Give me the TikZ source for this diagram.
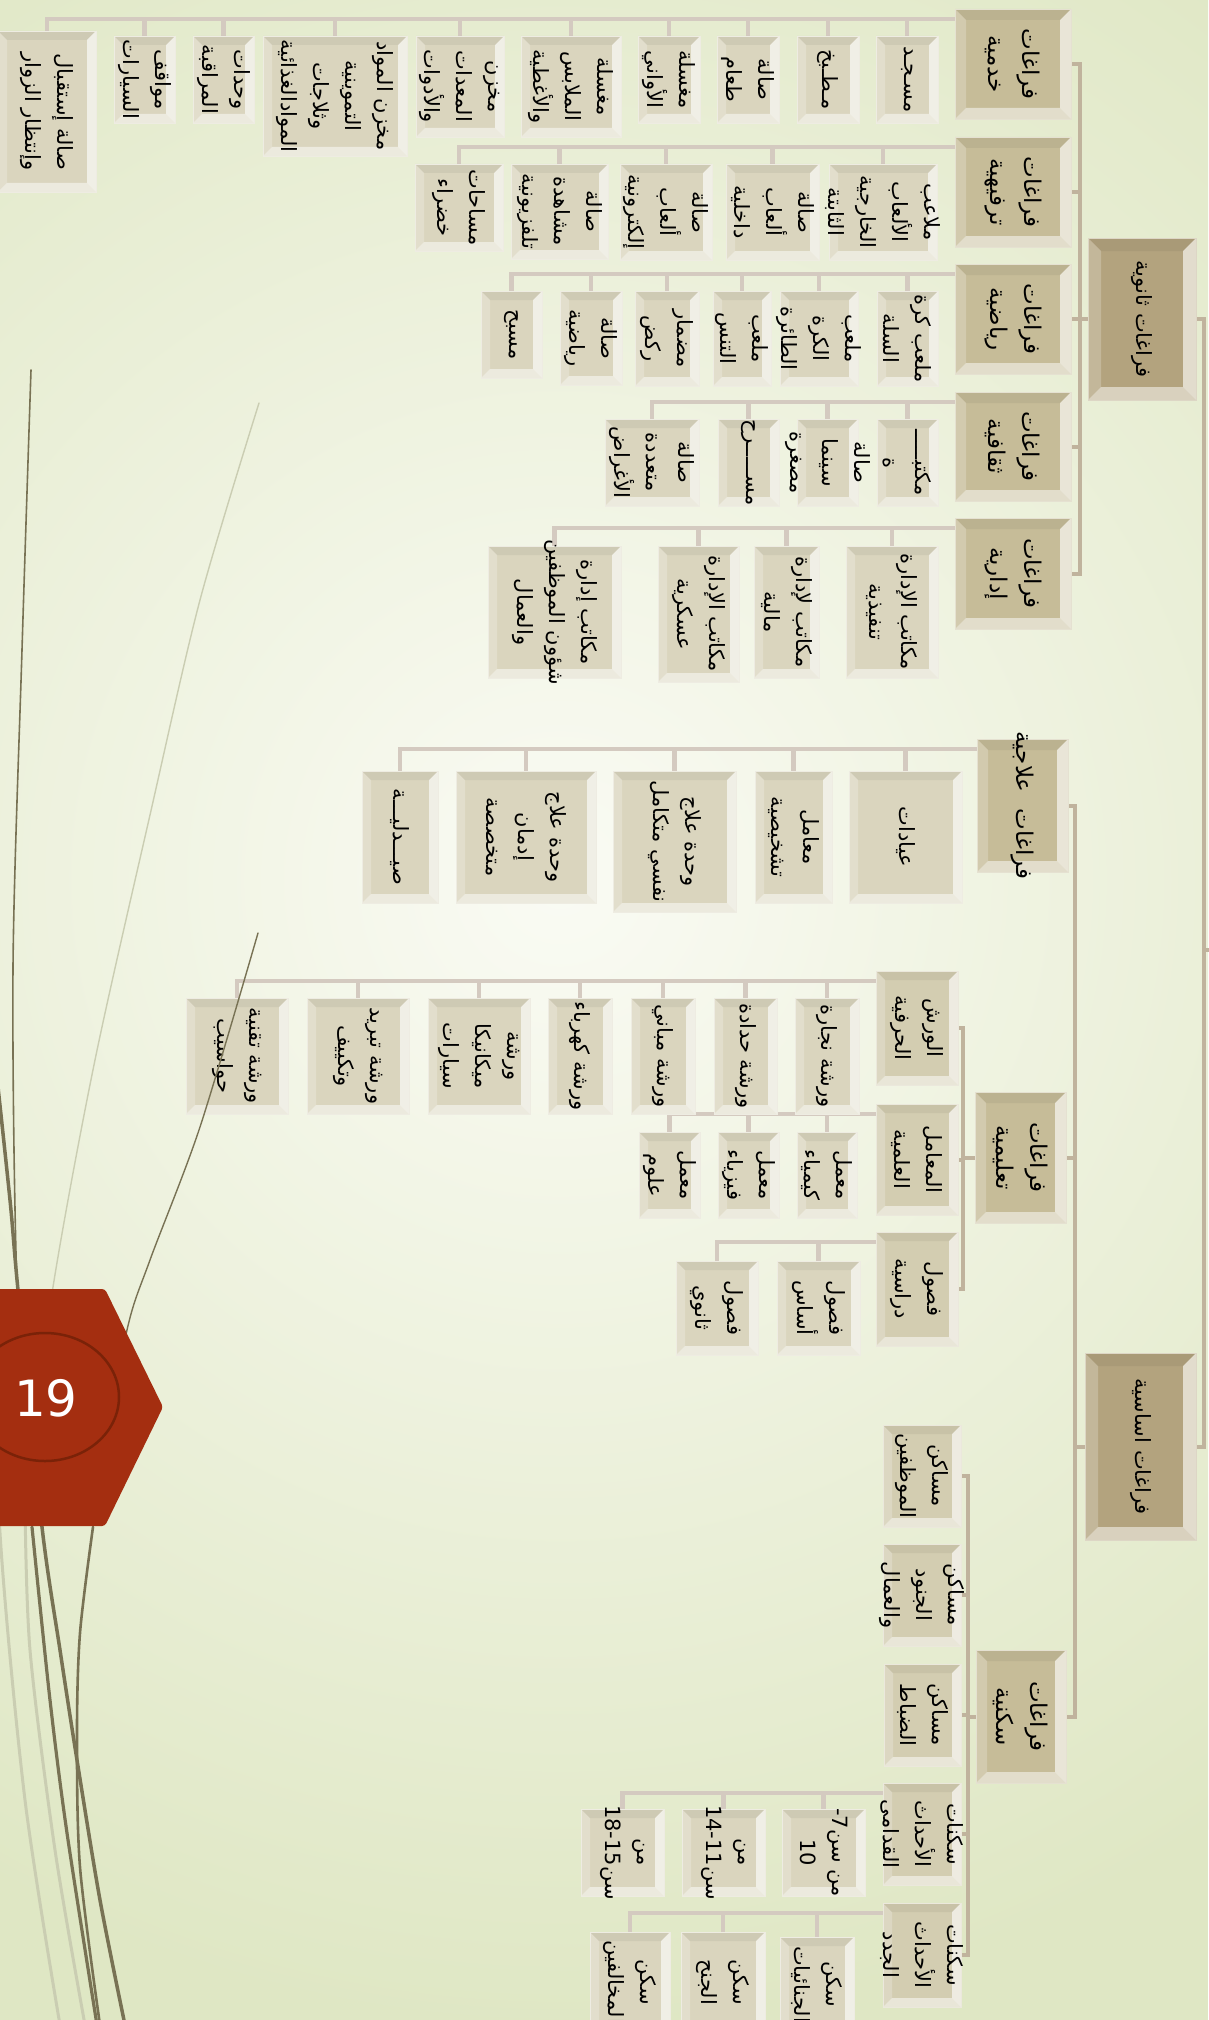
\documentclass[tikz,border=0pt]{standalone}
\usepackage{fontspec}
\newfontfamily\arabicfont[Script=Arabic]{DejaVu Sans}
\newfontfamily\numfont{DejaVu Sans}
\TeXXeTstate=1
\newcommand\arl[1]{\beginR#1\endR}
\definecolor{bgout}{HTML}{DFE7C4}
\definecolor{bgin}{HTML}{FAFBF4}
\definecolor{lone}{HTML}{B3A37E}
\definecolor{ltwo}{HTML}{C6BC98}
\definecolor{lthree}{HTML}{D3CDB1}
\definecolor{leaf}{HTML}{DAD5BE}
\definecolor{rowcol}{HTML}{D4CAC0}
\definecolor{colcol}{HTML}{C0B39D}
\definecolor{blade}{HTML}{787254}
\definecolor{bladepale}{HTML}{CACDB2}
\definecolor{hexred}{HTML}{A42E10}
\definecolor{hexdark}{HTML}{7A2208}
\pgfdeclarelayer{bg}
\pgfdeclarelayer{conn}
\pgfdeclarelayer{fg}
\pgfsetlayers{bg,conn,main,fg}
\tikzset{
 bevelbox/.style 2 args={rectangle, inner sep=0pt, outer sep=0pt, fill=#1, draw={#1!45!white}, line width=0.8pt,
  path picture={
   \fill[white,opacity=.62] (path picture bounding box.north east) -- (path picture bounding box.south east) -- ([xshift=-#2,yshift=#2]path picture bounding box.south east) -- ([xshift=-#2,yshift=-#2]path picture bounding box.north east) -- cycle;
   \fill[white,opacity=.5] (path picture bounding box.south west) -- (path picture bounding box.south east) -- ([xshift=-#2,yshift=#2]path picture bounding box.south east) -- ([xshift=#2,yshift=#2]path picture bounding box.south west) -- cycle;
   \fill[white,opacity=.22] (path picture bounding box.north west) -- (path picture bounding box.south west) -- ([xshift=#2,yshift=#2]path picture bounding box.south west) -- ([xshift=#2,yshift=-#2]path picture bounding box.north west) -- cycle;
   \fill[black,opacity=.05] (path picture bounding box.north west) -- (path picture bounding box.north east) -- ([xshift=-#2,yshift=-#2]path picture bounding box.north east) -- ([xshift=#2,yshift=-#2]path picture bounding box.north west) -- cycle;
  }},
 lonebox/.style={bevelbox={lone}{13pt}},
 ltwobox/.style={bevelbox={ltwo}{11pt}},
 lthreebox/.style={bevelbox={lthree}{9pt}},
 leafbox/.style={bevelbox={leaf}{9pt}},
 lonebox text/.style={font=\arabicfont\fontsize{21}{32}\selectfont},
 ltwobox text/.style={font=\arabicfont\fontsize{23}{34}\selectfont},
 lthreebox text/.style={font=\arabicfont\fontsize{21}{32}\selectfont},
 leafbox text/.style={font=\arabicfont\fontsize{21}{32}\selectfont},
 rowconn/.style={draw=rowcol, line width=4.5pt},
 colconn/.style={draw=colcol, line width=4pt},
 bladeline/.style={draw=blade, line cap=round},
 paleline/.style={draw=bladepale, line cap=round},
}
\newcommand\bx[7]{\node[#6, minimum width={(#4)-(#2)}, minimum height={(#5)-(#3)}, label={[rotate=-90,align=center,inner sep=0pt,#6 text]center:{#7}}] (#1) at ({((#2)+(#4))/2},{((#3)+(#5))/2}) {};}
\newcommand\rowc[2]{\draw[rowconn] ([xshift=6pt,yshift=-10pt]#1.north west) -| (#2.north);}
\newcommand\colc[3]{\draw[colconn] (#1.west) -- ++(-#3pt,0pt) |- (#2.east);}
\begin{document}
\begin{tikzpicture}[x=1pt,y=-1pt]
\useasboundingbox (0,0) rectangle (1208,2020);
\begin{pgfonlayer}{bg}
\fill[bgout] (0,0) rectangle (1208,2020);
\begin{scope}
\clip (0,0) rectangle (1208,2020);
\shade[inner color=bgin, outer color=bgout] (560,880) circle (1150pt);
\end{scope}
\end{pgfonlayer}

% level 1
\bx{T}{1088}{238}{1196}{400}{lonebox}{\arl{فراغات ثانوية}}
\bx{A}{1085}{1353}{1196}{1540}{lonebox}{\arl{فراغات اساسية}}
% level 2
\bx{S1}{955}{9}{1071}{119}{ltwobox}{\arl{فراغات}\\\arl{خدمية}}
\bx{S2}{955}{137}{1071}{247}{ltwobox}{\arl{فراغات}\\\arl{ترفيهية}}
\bx{S3}{955}{264}{1071}{374}{ltwobox}{\arl{فراغات}\\\arl{رياضية}}
\bx{S4}{955}{392}{1071}{501}{ltwobox}{\arl{فراغات}\\\arl{ثقافية}}
\bx{S5}{955}{518}{1071}{629}{ltwobox}{\arl{فراغات}\\\arl{إدارية}}
\bx{B1}{977}{739}{1068}{872}{ltwobox}{\arl{فراغات\hspace{0.7em}علاجية}}
\bx{B2}{975}{1092}{1066}{1223}{ltwobox}{\arl{فراغات}\\\arl{تعليمية}}
\bx{B3}{976}{1650}{1066}{1783}{ltwobox}{\arl{فراغات}\\\arl{سكنية}}
% khidmiya
\bx{s1a}{876}{36}{938}{123}{leafbox}{\arl{مسـجـد}}
\bx{s1b}{797}{36}{859}{123}{leafbox}{\arl{مـطـبخ}}
\bx{s1c}{717}{36}{779}{123}{leafbox}{\arl{صالة}\\\arl{طعام}}
\bx{s1d}{638}{36}{700}{123}{leafbox}{\arl{مغسلة}\\\arl{الأواني}}
\bx{s1e}{521}{36}{621}{137}{leafbox}{\arl{مغسلة}\\\arl{الملابس}\\\arl{والأغطية}}
\bx{s1f}{416}{36}{504}{137}{leafbox}{\arl{مخزن}\\\arl{المعدات}\\\arl{والأدوات}}
\bx{s1g}{263}{36}{407}{156}{leafbox}{\arl{مخزن المواد}\\\arl{التموينية}\\\arl{وثلاجات}\\\arl{الموادالغذائية}}
\bx{s1h}{193}{36}{254}{123}{leafbox}{\arl{وحدات}\\\arl{المراقبة}}
\bx{s1i}{114}{36}{175}{123}{leafbox}{\arl{مواقف}\\\arl{السيارات}}
\bx{s1j}{-2}{31}{96}{192}{leafbox}{\arl{صالة إستقبال}\\\arl{وإنتظار الزوار}}
% tarfihiya
\bx{s2a}{829}{164}{937}{260}{leafbox}{\arl{ملاعب}\\\arl{الألعاب}\\\arl{الخارجية}\\\arl{الثابتة}}
\bx{s2b}{726}{164}{819}{260}{leafbox}{\arl{صالة}\\\arl{ألعاب}\\\arl{داخلية}}
\bx{s2c}{620}{164}{712}{260}{leafbox}{\arl{صالة}\\\arl{ألعاب}\\\arl{إلكترونية}}
\bx{s2d}{511}{164}{608}{259}{leafbox}{\arl{صالة}\\\arl{مشاهدة}\\\arl{تلفزيونية}}
\bx{s2e}{415}{164}{503}{251}{leafbox}{\arl{مساحات}\\\arl{خضراء}}
% riyadiya
\bx{s3a}{877}{291}{938}{386}{leafbox}{\arl{ملعب كرة}\\\arl{السلة}}
\bx{s3b}{780}{291}{858}{386}{leafbox}{\arl{ملعب}\\\arl{الكرة}\\\arl{الطائرة}}
\bx{s3c}{713}{291}{771}{386}{leafbox}{\arl{ملعب}\\\arl{التنس}}
\bx{s3d}{635}{291}{699}{386}{leafbox}{\arl{مضمار}\\\arl{ركض}}
\bx{s3e}{560}{291}{622}{385}{leafbox}{\arl{صالة}\\\arl{رياضية}}
\bx{s3f}{481}{291}{542}{378}{leafbox}{\arl{مسبح}}
% thaqafiya
\bx{s4a}{877}{419}{938}{506}{leafbox}{\arl{مكتبـــــ}\\\arl{ة}}
\bx{s4b}{797}{419}{858}{506}{leafbox}{\arl{صالة}\\\arl{سينما}\\\arl{مصغرة}}
\bx{s4c}{718}{419}{779}{506}{leafbox}{\arl{مســـــرح}}
\bx{s4d}{605}{419}{699}{506}{leafbox}{\arl{صالة}\\\arl{متعددة}\\\arl{الأغراض}}
% idariya
\bx{s5a}{846}{546}{938}{678}{leafbox}{\arl{مكاتب الإدارة}\\\arl{تنفيذية}}
\bx{s5b}{754}{546}{819}{678}{leafbox}{\arl{مكاتب لإدارة}\\\arl{مالية}}
\bx{s5c}{658}{546}{739}{682}{leafbox}{\arl{مكاتب الإدارة}\\\arl{عسكرية}}
\bx{s5d}{488}{546}{621}{678}{leafbox}{\arl{مكاتب إدارة}\\\arl{شؤون الموظفين}\\\arl{والعمال}}
% ilajiya
\bx{b1a}{849}{771}{962}{903}{leafbox}{\arl{عيادات}}
\bx{b1b}{755}{771}{832}{903}{leafbox}{\arl{معامل}\\\arl{تشخيصية}}
\bx{b1c}{613}{771}{736}{912}{leafbox}{\arl{وحدة علاج}\\\arl{نفسي متكامل}}
\bx{b1d}{456}{771}{596}{903}{leafbox}{\arl{وحدة علاج}\\\arl{إدمان}\\\arl{متخصصة}}
\bx{b1e}{362}{771}{438}{903}{leafbox}{\arl{صيـــدليـــة}}
% taalimiya
\bx{c1}{876}{971}{958}{1085}{lthreebox}{\arl{الورش}\\\arl{الحرفية}}
\bx{c2}{876}{1104}{958}{1215}{lthreebox}{\arl{المعامل}\\\arl{العلمية}}
\bx{c3}{876}{1232}{958}{1346}{lthreebox}{\arl{فصول}\\\arl{دراسية}}
\bx{c1a}{795}{998}{859}{1114}{leafbox}{\arl{ورشة نجارة}}
\bx{c1b}{714}{998}{777}{1114}{leafbox}{\arl{ورشة حدادة}}
\bx{c1c}{631}{998}{695}{1114}{leafbox}{\arl{ورشة مباني}}
\bx{c1d}{548}{998}{612}{1114}{leafbox}{\arl{ورشة كهرباء}}
\bx{c1e}{428}{998}{530}{1114}{leafbox}{\arl{ورشة}\\\arl{ميكانيكا}\\\arl{سيارات}}
\bx{c1f}{307}{998}{409}{1114}{leafbox}{\arl{ورشة تبريد}\\\arl{وتكييف}}
\bx{c1g}{186}{998}{288}{1114}{leafbox}{\arl{ورشة تقنية}\\\arl{حواسيب}}
\bx{c2a}{797}{1132}{857}{1218}{leafbox}{\arl{معمل}\\\arl{كيمياء}}
\bx{c2b}{718}{1132}{779}{1218}{leafbox}{\arl{معمل}\\\arl{فيزياء}}
\bx{c2c}{639}{1132}{700}{1218}{leafbox}{\arl{معمل}\\\arl{علوم}}
\bx{c3a}{777}{1261}{860}{1355}{leafbox}{\arl{فصول}\\\arl{أساس}}
\bx{c3b}{676}{1261}{758}{1355}{leafbox}{\arl{فصول}\\\arl{ثانوي}}
% sakaniya
\bx{d1}{883}{1425}{961}{1527}{lthreebox}{\arl{مساكن}\\\arl{الموظفين}}
\bx{d2}{883}{1544}{961}{1646}{lthreebox}{\arl{مساكن}\\\arl{الجنود}\\\arl{والعمال}}
\bx{d3}{884}{1664}{961}{1766}{lthreebox}{\arl{مساكن}\\\arl{الضباط}}
\bx{d4}{883}{1783}{961}{1885}{lthreebox}{\arl{سكنات}\\\arl{الأحداث}\\\arl{القدامى}}
\bx{d5}{883}{1903}{961}{2007}{lthreebox}{\arl{سكنات}\\\arl{الأحداث}\\\arl{الجدد}}
\bx{d4a}{782}{1809}{865}{1896}{leafbox}{\arl{من سن\beginL7\endL-}\\\beginL10\endL}
\bx{d4b}{682}{1809}{765}{1896}{leafbox}{\arl{من}\\\arl{سن\beginL14-11\endL}}
\bx{d4c}{581}{1809}{664}{1896}{leafbox}{\arl{من}\\\arl{سن\beginL18-15\endL}}
\bx{d5a}{780}{1937}{854}{2032}{leafbox}{\arl{سكن}\\\arl{الجنائيات}}
\bx{d5b}{681}{1932}{765}{2032}{leafbox}{\arl{سكن}\\\arl{الجنح}}
\bx{d5c}{590}{1932}{670}{2032}{leafbox}{\arl{سكن}\\\arl{المخالفين}}

\begin{pgfonlayer}{conn}
% root
\coordinate (rootin) at (1214,950);
\draw[colconn] (T.east) -- ++(8pt,0pt) |- (A.east);
\draw[colconn] (rootin) -- ([xshift=8pt]T.east |- rootin);
% column buses
\foreach \c in {S1,S2,S3,S4,S5} {\colc{T}{\c}{8}}
\foreach \c in {B1,B2,B3} {\colc{A}{\c}{10}}
\foreach \c in {c1,c2,c3} {\colc{B2}{\c}{12}}
\foreach \c in {d1,d2,d3,d4,d5} {\colc{B3}{\c}{8}}
% rows
\foreach \c in {s1a,s1b,s1c,s1d,s1e,s1f,s1g,s1h,s1i,s1j} {\rowc{S1}{\c}}
\foreach \c in {s2a,s2b,s2c,s2d,s2e} {\rowc{S2}{\c}}
\foreach \c in {s3a,s3b,s3c,s3d,s3e,s3f} {\rowc{S3}{\c}}
\foreach \c in {s4a,s4b,s4c,s4d} {\rowc{S4}{\c}}
\foreach \c in {s5a,s5b,s5c,s5d} {\rowc{S5}{\c}}
\foreach \c in {b1a,b1b,b1c,b1d,b1e} {\rowc{B1}{\c}}
\foreach \c in {c1a,c1b,c1c,c1d,c1e,c1f,c1g} {\rowc{c1}{\c}}
\foreach \c in {c2a,c2b,c2c} {\rowc{c2}{\c}}
\foreach \c in {c3a,c3b} {\rowc{c3}{\c}}
\foreach \c in {d4a,d4b,d4c} {\rowc{d4}{\c}}
\foreach \c in {d5a,d5b,d5c} {\rowc{d5}{\c}}
\end{pgfonlayer}

\begin{pgfonlayer}{fg}
% decorative blades
\draw[paleline, line width=1.4pt] plot[smooth] coordinates {(259,403) (200,600) (150,815) (95,1060) (53,1287) (25,1500)};
\draw[paleline, line width=3pt] plot[smooth] coordinates {(25,1500) (30,1650) (55,1850) (85,2025)};
\draw[paleline, line width=3pt] plot[smooth] coordinates {(-6,1300) (0,1533) (25,1800) (60,2025)};
\draw[bladeline, line width=1.6pt] plot[smooth] coordinates {(31,370) (22,650) (13,968) (17,1287) (32,1527)};
\draw[bladeline, line width=3.2pt] plot[smooth] coordinates {(32,1527) (50,1700) (67,1833) (97,2025)};
\draw[bladeline, line width=3.5pt] plot[smooth] coordinates {(-6,1050) (10,1200) (18,1290) (42,1527) (60,1650) (77,1760) (100,1900) (125,2025)};
\draw[bladeline, line width=1.4pt] plot[smooth] coordinates {(258,933) (200,1127) (150,1260) (127,1330) (100,1480) (93,1527)};
\draw[bladeline, line width=2.6pt] plot[smooth] coordinates {(93,1527) (80,1633) (77,1733) (80,1867) (100,2025)};
% slide number badge
\fill[hexred, rounded corners=3pt] (-10,1289) -- (105,1289) -- (163,1407) -- (105,1526) -- (-10,1526) -- cycle;
\draw[hexdark, line width=2.5pt] (45,1397) ellipse [x radius=74pt, y radius=64pt];
\node[text=white, font=\numfont\fontsize{50}{50}\selectfont, inner sep=0pt] (pagenum) at (46,1398) {19};
\end{pgfonlayer}
\end{tikzpicture}
\end{document}
